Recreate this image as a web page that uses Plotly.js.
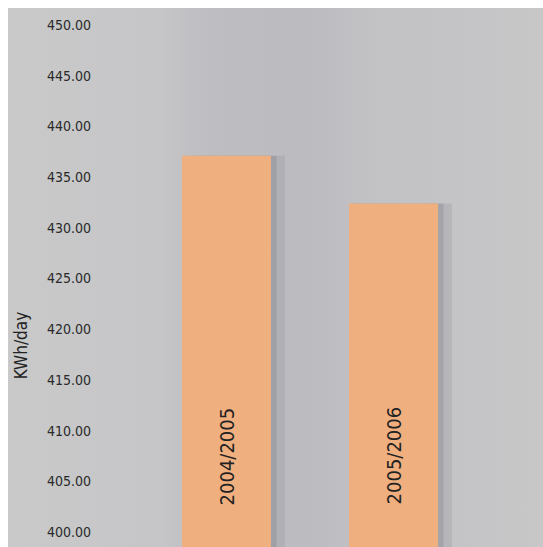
<!DOCTYPE html>
<html>
<head>
<meta charset="utf-8">
<script src="https://cdn.plot.ly/plotly-3.0.1.min.js"></script>
<style>
  html, body { margin: 0; padding: 0; background: #ffffff; }
  #wrap { position: relative; width: 543px; height: 547px; }
  #bg { position: absolute; left: 8px; top: 8px; width: 535px; height: 539px;
        background: linear-gradient(90deg, #c9c9ca 0%, #c6c6c8 28%, #bdbdc2 38%, #bbbbc0 55%, #c2c2c5 68%, #c7c7c8 100%); }
  #chart { position: absolute; left: 0; top: 0; width: 543px; height: 547px; }
</style>
</head>
<body>
<div id="wrap">
  <div id="bg"></div>
  <div id="chart"></div>
</div>
<script>
const categories = ["2004/2005", "2005/2006"];
const values = [437.1, 432.4];
const tickValues = [400, 405, 410, 415, 420, 425, 430, 435, 440, 445, 450];
const tickLabels = ["400.00", "405.00", "410.00", "415.00", "420.00", "425.00", "430.00", "435.00", "440.00", "445.00", "450.00"];
const yTitle = "KWh/day";

const font = "'DejaVu Sans Condensed', 'DejaVu Sans', sans-serif";

const shadowOuter = {
  type: "bar", x: categories, y: values,
  width: 0.6, offset: -0.25,
  marker: { color: "rgba(120,120,135,0.18)", line: { width: 0 } },
  hoverinfo: "skip", showlegend: false
};
const shadowInner = {
  type: "bar", x: categories, y: values,
  width: 0.56, offset: -0.26,
  marker: { color: "rgba(110,110,125,0.25)", line: { width: 0 } },
  hoverinfo: "skip", showlegend: false
};
const bars = {
  type: "bar", x: categories, y: values,
  width: 0.533,
  marker: { color: "#f0af7e", line: { width: 0 } },
  showlegend: false
};

const annotations = categories.map((c) => ({
  x: c, xref: "x", y: 407.5, yref: "y",
  text: c, textangle: -90, showarrow: false,
  font: { family: font, size: 20, color: "#222222" }
}));
annotations.push({
  x: 0.026, xref: "paper", xanchor: "center", y: 418.4, yref: "y", yanchor: "middle",
  text: yTitle, textangle: -90, showarrow: false,
  font: { family: font, size: 17, color: "#222222" }
});

const layout = {
  width: 543, height: 547,
  margin: { l: 8, r: 0, t: 8, b: 0, pad: 0 },
  paper_bgcolor: "rgba(0,0,0,0)",
  plot_bgcolor: "rgba(0,0,0,0)",
  barmode: "overlay",
  xaxis: {
    type: "category", range: [-1.308, 1.895],
    showgrid: false, zeroline: false, showline: false, showticklabels: false, ticks: ""
  },
  yaxis: {
    range: [398.52, 451.68],
    tickvals: tickValues, ticktext: tickLabels,
    ticklabelposition: "inside", ticklabelstandoff: 36,
    showgrid: false, zeroline: false, showline: false, ticks: "",
    tickfont: { family: font, size: 14, color: "#2a2a2a" }
  },
  annotations: annotations,
  showlegend: false
};

Plotly.newPlot("chart", [shadowOuter, shadowInner, bars], layout, { displayModeBar: false, staticPlot: true });
</script>
</body>
</html>
